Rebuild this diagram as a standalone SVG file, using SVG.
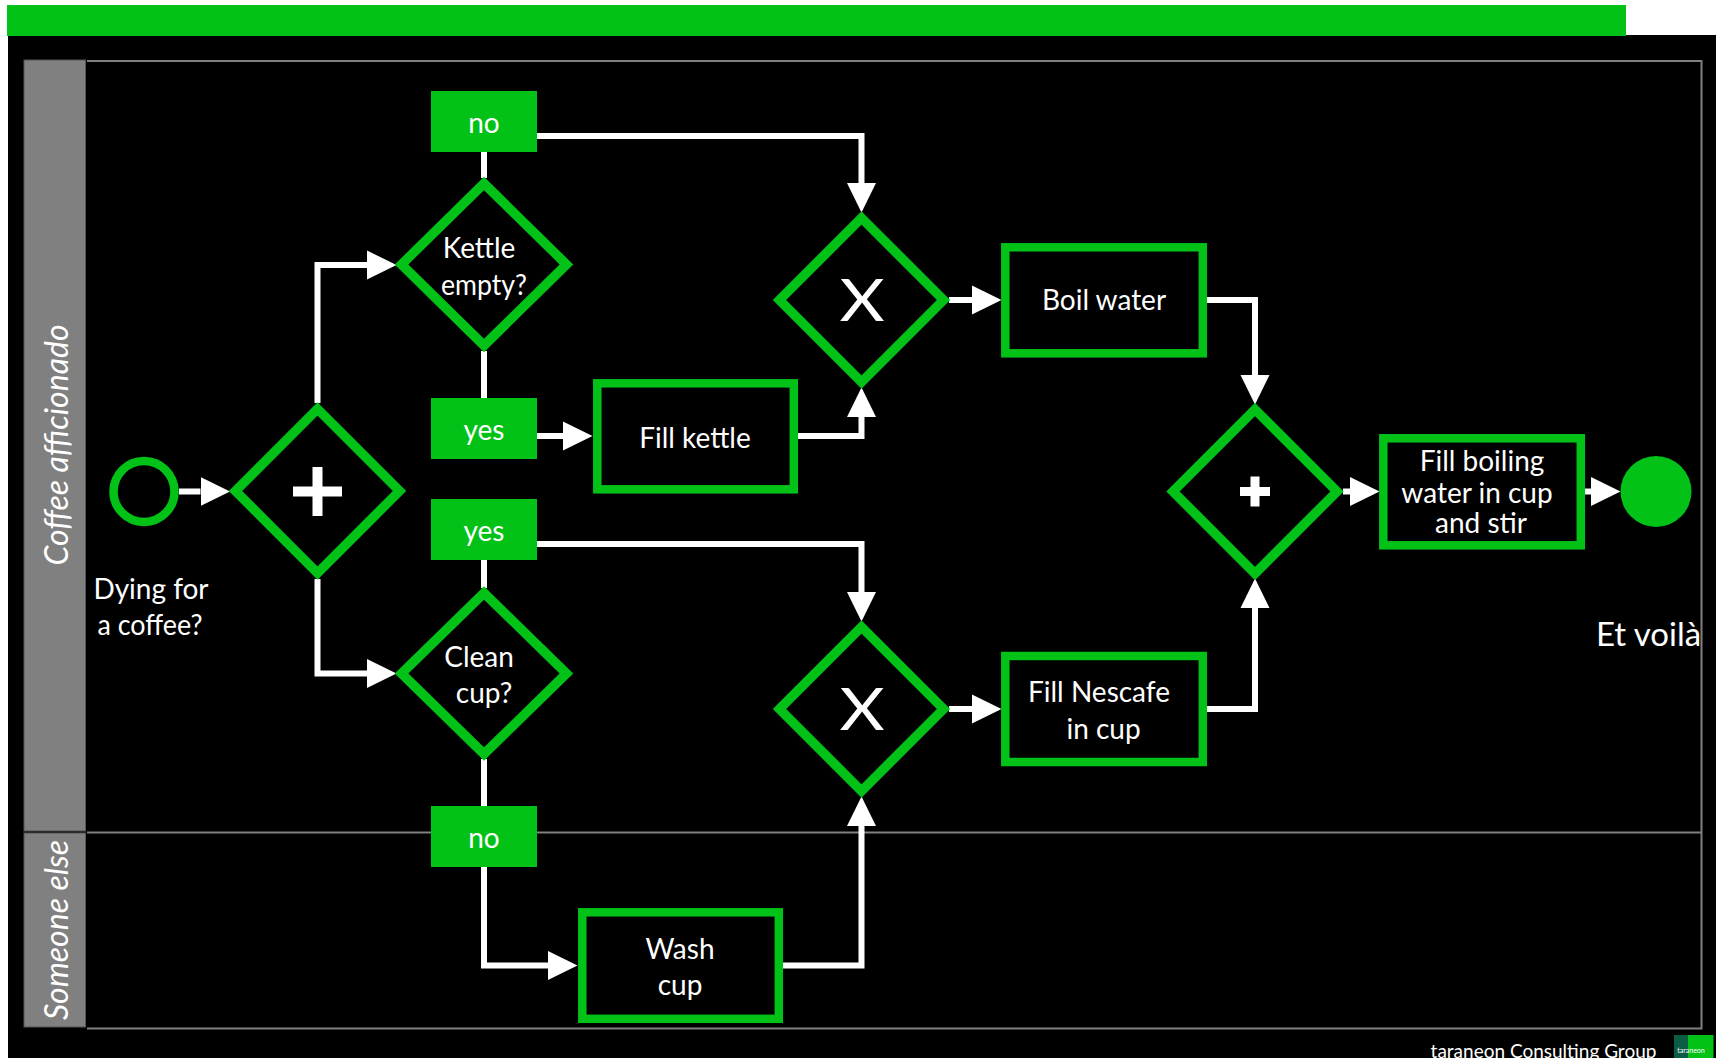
<svg xmlns="http://www.w3.org/2000/svg" width="1720" height="1058" viewBox="0 0 1720 1058">
<style>
text{font-family:"Lato","Open Sans","Liberation Sans",sans-serif;fill:#fff;text-anchor:middle}
.t{font-size:28px}
.lane{fill:#808080;stroke:#555;stroke-width:1}
.ll{font-size:32px;font-style:italic}
.pool{fill:none;stroke:#808080;stroke-width:2}
.shape{fill:#000;stroke:#02c217;stroke-width:8.5;stroke-linejoin:miter;stroke-miterlimit:10}
.dia{stroke-width:9.5}
.box{fill:#02c217}
.c{fill:none;stroke:#fff;stroke-width:6;stroke-linejoin:miter}
.a{marker-end:url(#ah)}
.p{fill:#fff}
.xm{font-size:58px}
</style>
<defs>
<marker id="ah" markerUnits="userSpaceOnUse" viewBox="0 -15 30 30" refX="0" refY="0" markerWidth="30" markerHeight="30" orient="auto"><path d="M0,-14.5 L29.5,0 L0,14.5 z" fill="#fff"/></marker>
</defs>
<rect width="1720" height="1058" fill="#fff"/>
<rect x="8" y="35" width="1708" height="1023" fill="#000"/>
<rect id="title-bar" x="7" y="5" width="1619" height="31" fill="#02c217"/>
<g id="lanes">
<rect class="lane" x="24" y="60" width="61.5" height="771"/>
<rect class="lane" x="24" y="833" width="61.5" height="194"/>
<path class="pool" d="M87,61 H1701.5 V1028.5 H87 M87,832.5 H1701.5"/>
<text class="ll" transform="translate(68,445) rotate(-90)">Coffee  afficionado</text>
<text class="ll" transform="translate(68,930) rotate(-90)">Someone  else</text>
</g>
<g id="connectors">
<path class="c a" d="M179,491.5 H200.5"/>
<path class="c a" d="M317.500,403 V265 H367"/>
<path class="c a" d="M317.500,579 V673.5 H367"/>
<path class="c" d="M484,152 V178"/>
<path class="c a" d="M537,136 H861.500 V183"/>
<path class="c" d="M484,351 V398"/>
<path class="c a" d="M537,436 H563"/>
<path class="c a" d="M798,436 H861.500 V417"/>
<path class="c a" d="M949,300 H972"/>
<path class="c a" d="M1207,300 H1255 V375"/>
<path class="c" d="M484,560 V588"/>
<path class="c a" d="M537,544 H861.500 V592"/>
<path class="c" d="M484,759 V806"/>
<path class="c a" d="M484,867 V965.500 H548"/>
<path class="c a" d="M783,965.500 H861.500 V826"/>
<path class="c a" d="M949,709 H972"/>
<path class="c a" d="M1207,709 H1255 V608"/>
<path class="c a" d="M1343,491.5 H1350"/>
<path class="c a" d="M1585,491.5 H1591"/>
</g>
<g id="start"><circle class="shape" cx="144" cy="491.5" r="30.5"/>
<text class="t" x="151" y="599">Dying for</text><text class="t" x="150" y="635" textLength="105" lengthAdjust="spacingAndGlyphs">a coffee?</text></g>
<g id="gw-split"><path class="shape dia" d="M317.500,409 L399.500,491 L317.500,573 L235.500,491 Z"/><path class="p" d="M312.500,467 h10 v19.500 h19.500 v10 h-19.500 v19.500 h-10 v-19.500 h-19.500 v-10 h19.500 Z"/></g>
<g id="d-kettle"><path class="shape dia" d="M484,183.500 L566.500,264.500 L484,345.500 L401.500,264.500 Z"/>
<text class="t" x="479" y="258">Kettle</text><text class="t" x="484" y="295" textLength="86" lengthAdjust="spacingAndGlyphs">empty?</text></g>
<g id="d-cup"><path class="shape dia" d="M484,593 L566.500,673.500 L484,754 L401.500,673.500 Z"/>
<text class="t" x="479" y="667">Clean</text><text class="t" x="484" y="703">cup?</text></g>
<g id="l-no1"><rect class="box" x="431" y="91" width="106" height="61"/><text class="t" x="484" y="133">no</text></g>
<g id="l-yes1"><rect class="box" x="431" y="398" width="106" height="61"/><text class="t" x="484" y="440">yes</text></g>
<g id="l-yes2"><rect class="box" x="431" y="499" width="106" height="61"/><text class="t" x="484" y="541">yes</text></g>
<g id="l-no2"><rect class="box" x="431" y="806" width="106" height="61"/><text class="t" x="484" y="848">no</text></g>
<g id="fill-kettle"><rect class="shape" x="597.300" y="383.300" width="196.500" height="106"/><text class="t" x="695" y="447.500">Fill kettle</text></g>
<g id="wash-cup"><rect class="shape" x="582.300" y="912.300" width="196.500" height="106.500"/><text class="t" x="680" y="959">Wash</text><text class="t" x="680" y="995">cup</text></g>
<g id="x-top"><path class="shape dia" d="M861.500,218 L943.500,300 L861.500,382 L779.500,300 Z"/><text class="xm" transform="translate(862,321) scale(1.2,1)">X</text></g>
<g id="x-bottom"><path class="shape dia" d="M861.500,627 L943.500,709 L861.500,791 L779.500,709 Z"/><text class="xm" transform="translate(862,730) scale(1.2,1)">X</text></g>
<g id="boil"><rect class="shape" x="1005.300" y="247.300" width="197.500" height="106"/><text class="t" x="1104" y="310">Boil water</text></g>
<g id="nescafe"><rect class="shape" x="1005.300" y="656" width="197.500" height="106"/><text class="t" x="1099" y="702">Fill Nescafe</text><text class="t" x="1103.500" y="738.500">in cup</text></g>
<g id="gw-join"><path class="shape dia" d="M1255,409.500 L1337,491.500 L1255,573.500 L1173,491.500 Z"/><path class="p" d="M1250.500,476.500 h9 v10.500 h10.500 v9 h-10.500 v10.500 h-9 v-10.500 h-10.500 v-9 h10.500 Z"/></g>
<g id="fill-boiling"><rect class="shape" x="1383.300" y="438.300" width="197.500" height="107"/><text class="t" x="1482" y="471">Fill boiling</text><text class="t" x="1477" y="502.500">water in cup</text><text class="t" x="1481" y="533">and stir</text></g>
<g id="end"><circle cx="1656" cy="491.500" r="35.500" fill="#02c217"/><text x="1648.500" y="645.500" font-size="33">Et voilà</text></g>
<g id="footer"><text x="1543.500" y="1058" font-size="19">taraneon Consulting Group</text>
<rect x="1674" y="1035" width="14" height="23" fill="#0a5c45"/><rect x="1688" y="1035" width="25.500" height="23" fill="#02c217"/><text x="1691" y="1053" font-size="7">taraneon</text></g>
</svg>
